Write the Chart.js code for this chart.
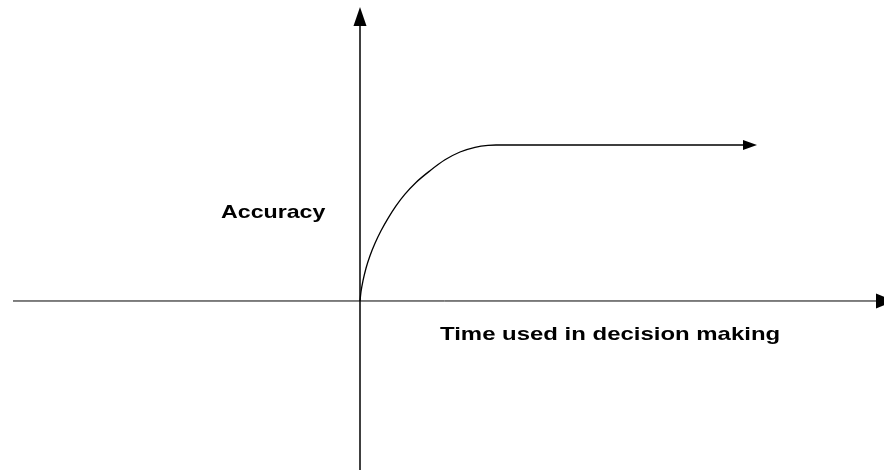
<!DOCTYPE html>
<html>
<head>
<meta charset="utf-8">
<script src="https://cdn.jsdelivr.net/npm/chart.js@4"></script>
<style>
  body { margin: 0; background: #fff; }
  #wrap { width: 884px; height: 474px; }
</style>
</head>
<body>
<div id="wrap"><canvas id="myChart"></canvas></div>
<script>
// accuracy vs time curve (time units, accuracy 0..1 = plateau)
const curveTime = [0, 0.01, 0.03, 0.06, 0.10, 0.15, 0.21, 0.28, 0.36, 0.45, 0.56, 0.70, 0.85, 1.00, 1.15, 1.28, 1.36, 3.83];
const curveAccuracy = [0, 0.06, 0.13, 0.21, 0.29, 0.37, 0.45, 0.53, 0.61, 0.685, 0.76, 0.835, 0.905, 0.955, 0.985, 0.998, 1.0, 1.0];

// axis line extents
const xAxisRange = [-3.47, 5.16];
const yAxisRange = [-1.083, 1.763];

const yLabel = "Accuracy";
const xLabel = "Time used in decision making";

const toPoints = (xs, ys) => xs.map((x, i) => ({ x: x, y: ys[i] }));

const arrowHeads = {
  id: "arrowHeads",
  afterDatasetsDraw(chart) {
    const ctx = chart.ctx;
    chart.data.datasets.forEach((ds, i) => {
      if (!ds.arrow) return;
      const pts = chart.getDatasetMeta(i).data;
      const a = pts[pts.length - 2];
      const b = pts[pts.length - 1];
      const dx = b.x - a.x, dy = b.y - a.y;
      const d = Math.hypot(dx, dy);
      const ux = dx / d, uy = dy / d;
      const len = ds.arrow.len, half = ds.arrow.half;
      ctx.save();
      ctx.fillStyle = "#000";
      ctx.beginPath();
      ctx.moveTo(b.x + ux * len, b.y + uy * len);
      ctx.lineTo(b.x - uy * half, b.y + ux * half);
      ctx.lineTo(b.x + uy * half, b.y - ux * half);
      ctx.closePath();
      ctx.fill();
      ctx.restore();
    });
  },
};

const labels = {
  id: "labels",
  afterDraw(chart) {
    const ctx = chart.ctx;
    const x = chart.scales.x, y = chart.scales.y;
    const put = (text, px, py, sx) => {
      ctx.save();
      ctx.translate(px, py);
      ctx.scale(sx, 1);
      ctx.font = "bold 19px 'Liberation Sans', Arial, sans-serif";
      ctx.fillStyle = "#000";
      ctx.textBaseline = "alphabetic";
      ctx.fillText(text, 0, 0);
      ctx.restore();
    };
    put(yLabel, x.getPixelForValue(-1.39), y.getPixelForValue(0.532), 1.22);
    put(xLabel, x.getPixelForValue(0.80), y.getPixelForValue(-0.25), 1.26);
  },
};

const data = {
  datasets: [
    {
      data: toPoints(curveTime, curveAccuracy),
      borderColor: "#000",
      borderWidth: 1.3,
      cubicInterpolationMode: "monotone",
      arrow: { len: 14, half: 5 },
    },
    {
      data: toPoints(xAxisRange, [0, 0]),
      borderColor: "#000",
      borderWidth: 1,
      arrow: { len: 19, half: 7.5 },
    },
    {
      data: toPoints([0, 0], yAxisRange),
      borderColor: "#000",
      borderWidth: 1.5,
      arrow: { len: 19, half: 6.5 },
    },
  ],
};

const config = {
  type: "scatter",
  data: data,
  options: {
    responsive: true,
    maintainAspectRatio: false,
    animation: false,
    showLine: true,
    elements: { point: { radius: 0, hoverRadius: 0 } },
    layout: { padding: 0 },
    plugins: {
      legend: { display: false },
      tooltip: { enabled: false },
    },
    scales: {
      x: { type: "linear", min: -3.6, max: 5.24, display: false },
      y: { type: "linear", min: -1.109, max: 1.9295, display: false },
    },
  },
  plugins: [arrowHeads, labels],
};

document.addEventListener("DOMContentLoaded", () => {
  const ctx = document.getElementById("myChart").getContext("2d");
  new Chart(ctx, config);
});
</script>
</body>
</html>
